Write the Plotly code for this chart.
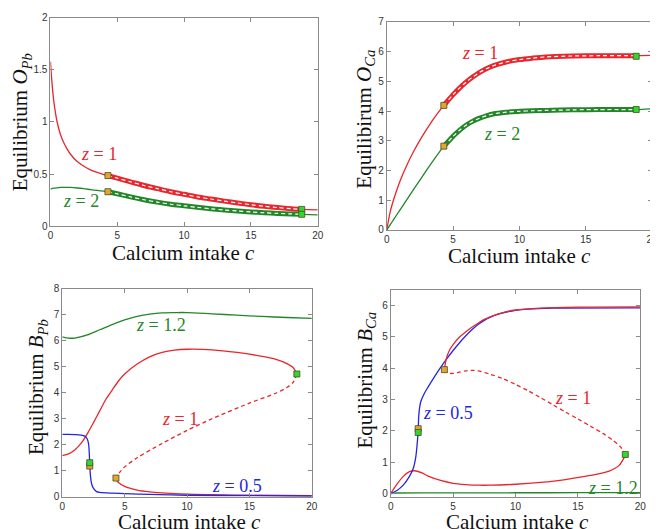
import plotly.graph_objects as go

W, H = 658, 529

# ---------------- data ----------------
# Top-left: O_Pb
opb_c = [0, 0.1, 0.25, 0.5, 0.75, 1, 1.25, 1.5, 2, 2.5, 3, 3.5, 4, 4.3, 5, 6, 7, 8, 9, 10, 11, 12, 13, 14, 15, 16, 17, 18, 18.8, 20]
opb_z1 = [1.58, 1.40, 1.20, 1.0, 0.88, 0.80, 0.74, 0.69, 0.62, 0.575, 0.54, 0.515, 0.495, 0.485, 0.46, 0.425, 0.39, 0.36, 0.33, 0.305, 0.28, 0.26, 0.24, 0.222, 0.205, 0.19, 0.178, 0.167, 0.16, 0.155]
opb_z2 = [0.355, 0.36, 0.364, 0.368, 0.371, 0.372, 0.372, 0.371, 0.366, 0.359, 0.35, 0.342, 0.335, 0.33, 0.31, 0.28, 0.253, 0.23, 0.21, 0.195, 0.18, 0.166, 0.155, 0.145, 0.136, 0.128, 0.122, 0.117, 0.113, 0.108]

# Top-right: O_Ca
oca_c = [0, 0.25, 0.5, 1, 1.5, 2, 2.5, 3, 3.5, 4, 4.3, 5, 5.5, 6, 6.5, 7, 7.5, 8, 9, 10, 11, 12, 14, 16, 18.8, 20]
oca_z1 = [0, 0.6, 1.0, 1.65, 2.17, 2.62, 3.02, 3.38, 3.72, 4.02, 4.19, 4.55, 4.78, 4.98, 5.15, 5.3, 5.42, 5.52, 5.65, 5.73, 5.78, 5.82, 5.85, 5.86, 5.86, 5.87]
oca_z2 = [0, 0.17, 0.34, 0.68, 1.01, 1.35, 1.68, 2.01, 2.33, 2.64, 2.81, 3.15, 3.36, 3.53, 3.66, 3.76, 3.84, 3.9, 3.96, 3.99, 4.01, 4.02, 4.04, 4.05, 4.05, 4.08]

# Bottom-left: B_Pb
bpb_z12_c = [0, 0.5, 1, 2, 3, 4, 5, 6, 7, 8, 9, 10, 12, 14, 16, 18, 20]
bpb_z12 = [6.15, 6.1, 6.1, 6.22, 6.42, 6.62, 6.8, 6.93, 7.02, 7.07, 7.08, 7.08, 7.03, 6.98, 6.93, 6.89, 6.86]
bpb_z1_up_c = [0, 0.5, 1, 1.5, 2, 2.5, 3, 3.5, 4, 4.5, 5, 6, 7, 8, 9, 10, 12, 14, 16, 17, 18, 18.5, 18.8]
bpb_z1_up = [1.58, 1.65, 1.8, 2.05, 2.42, 2.85, 3.3, 3.75, 4.1, 4.45, 4.72, 5.1, 5.38, 5.55, 5.64, 5.67, 5.65, 5.55, 5.4, 5.3, 5.12, 4.97, 4.72]
bpb_z1_mid_c = [18.8, 18.5, 18.0, 17, 15, 12, 10, 8, 6, 5, 4.6, 4.3]
bpb_z1_mid = [4.72, 4.4, 4.2, 3.96, 3.6, 3.0, 2.55, 2.05, 1.5, 1.15, 0.94, 0.72]
bpb_z1_lo_c = [4.3, 4.5, 5, 6, 7, 8, 10, 12, 15, 20]
bpb_z1_lo = [0.68, 0.55, 0.4, 0.26, 0.19, 0.15, 0.1, 0.08, 0.06, 0.04]
bpb_z05_c = [0, 0.5, 1, 1.5, 1.8, 2.0, 2.1, 2.15, 2.2, 2.25, 2.35, 2.5, 2.75, 3, 4, 5, 7, 10, 15, 20]
bpb_z05 = [2.4, 2.4, 2.39, 2.37, 2.33, 2.22, 2.05, 1.8, 1.25, 0.85, 0.5, 0.32, 0.2, 0.17, 0.14, 0.12, 0.09, 0.06, 0.045, 0.03]

# Bottom-right: B_Ca
bca_z05_c = [0, 0.5, 1, 1.5, 1.8, 2.0, 2.1, 2.2, 2.25, 2.4, 2.7, 3, 3.5, 4, 4.5, 5, 5.5, 6, 6.5, 7, 7.5, 8, 8.5, 9, 10, 11, 13, 20]
bca_z05 = [0, 0.1, 0.27, 0.55, 0.8, 1.15, 1.5, 2.0, 2.5, 2.92, 3.2, 3.4, 3.72, 4.02, 4.3, 4.56, 4.8, 5.02, 5.22, 5.39, 5.52, 5.62, 5.7, 5.76, 5.84, 5.88, 5.91, 5.92]
bca_z1_up_c = [4.3, 4.4, 4.5, 4.75, 5, 5.5, 6, 6.5, 7, 7.5, 8, 9, 10, 12, 15, 20]
bca_z1_up = [3.95, 4.2, 4.36, 4.6, 4.75, 4.98, 5.15, 5.3, 5.43, 5.55, 5.64, 5.77, 5.85, 5.91, 5.94, 5.95]
bca_z1_mid_c = [4.3, 4.6, 5, 5.5, 6, 6.5, 7, 8, 9, 10, 11, 12, 13, 14, 15, 16, 17, 17.8, 18.4, 18.8]
bca_z1_mid = [3.95, 3.84, 3.83, 3.87, 3.91, 3.93, 3.91, 3.8, 3.66, 3.48, 3.28, 3.06, 2.83, 2.6, 2.38, 2.15, 1.92, 1.7, 1.5, 1.25]
bca_z1_lo_c = [0, 0.5, 1, 1.5, 1.9, 2.5, 3, 4, 5, 6, 7, 8, 10, 12, 14, 16, 17.5, 18.3, 18.8]
bca_z1_lo = [0, 0.3, 0.55, 0.7, 0.73, 0.66, 0.56, 0.42, 0.33, 0.29, 0.27, 0.27, 0.3, 0.36, 0.45, 0.58, 0.72, 0.9, 1.22]
bca_z12_c = [0, 0.5, 5, 10, 15, 20]
bca_z12 = [0, 0.02, 0.025, 0.028, 0.03, 0.03]

# fold / bifurcation markers (c, value)
fold_lo_c = 4.3
fold_hi_c = 18.8
fold_z05_c = 2.2
opb_mk_orange = [0.485, 0.33]
opb_mk_green = [0.16, 0.113]
oca_mk_orange = [4.19, 2.82]
oca_mk_green = [5.84, 4.05]
bpb_mk_orange = [0.72, 1.18]
bpb_mk_green = [4.72, 1.31]
bca_mk_orange = [3.95, 2.07]
bca_mk_green = [1.25, 1.95]

# ---------------- styles ----------------
RED = "#e8262b"
GREEN = "#23872a"
BLUE = "#2326e0"
ORANGE = "#e3a72f"
LGREEN = "#2ed82e"
SERIF = "Liberation Serif"

fig = go.Figure()

domains = {
    "TL": dict(x=[40 / W, 311 / W], y=[1 - 217 / H, 1 - 4 / H], xr=[0, 20], yr=[0, 2], yt=[0, 0.5, 1, 1.5, 2], ytt=["0", "0.5", "1", "1.5", "2"]),
    "TR": dict(x=[381 / W, 650 / W], y=[1 - 221 / H, 1 - 8 / H], xr=[0, 20], yr=[0, 7], yt=list(range(8)), ytt=[str(v) for v in range(8)]),
    "BL": dict(x=[52 / W, 305 / W], y=[1 - 494 / H, 1 - 281 / H], xr=[0, 20], yr=[0, 8], yt=list(range(9)), ytt=[str(v) for v in range(9)]),
    "BR": dict(x=[385 / W, 638 / W], y=[1 - 494 / H, 1 - 282 / H], xr=[0, 20], yr=[-0.1, 6.5], yt=list(range(7)), ytt=[str(v) for v in range(7)]),
}
axnames = {"TL": ("x", "y"), "TR": ("x2", "y2"), "BL": ("x3", "y3"), "BR": ("x4", "y4")}

layout_axes = {}
for k, d in domains.items():
    xa, ya = axnames[k]
    xkey = "xaxis" if xa == "x" else "xaxis" + xa[1:]
    ykey = "yaxis" if ya == "y" else "yaxis" + ya[1:]
    common = dict(showline=True, linecolor="#8a8a8a", linewidth=1, mirror="ticks",
                  ticks="inside", ticklen=4, tickcolor="#8a8a8a", showgrid=False, zeroline=False,
                  tickfont=dict(family="Liberation Sans", size=10, color="#333333"))
    layout_axes[xkey] = dict(domain=d["x"], range=d["xr"], anchor=ya, tickvals=[0, 5, 10, 15, 20],
                             ticktext=["0", "5", "10", "15", "20"], **common)
    layout_axes[ykey] = dict(domain=d["y"], range=d["yr"], anchor=xa, tickvals=d["yt"], ticktext=d["ytt"], **common)


def line(xs, ys, color, ax, width=1.3, dash=None):
    fig.add_trace(go.Scatter(x=xs, y=ys, mode="lines", xaxis=ax[0], yaxis=ax[1],
                             line=dict(color=color, width=width, dash=dash, shape="spline", smoothing=0.8),
                             showlegend=False, hoverinfo="skip"))


def band(xs, ys, color, ax):
    bx = [x for x in xs if fold_lo_c <= x <= fold_hi_c]
    by = [y for x, y in zip(xs, ys) if fold_lo_c <= x <= fold_hi_c]
    line(bx, by, color, ax, width=5)
    line(bx, by, "white", ax, width=1.2, dash="4px,3px")


def markers(xs, ys, color, ax):
    fig.add_trace(go.Scatter(x=xs, y=ys, mode="markers", xaxis=ax[0], yaxis=ax[1],
                             marker=dict(symbol="square", size=6, color=color, line=dict(color="#4a4a20", width=0.8)),
                             showlegend=False, hoverinfo="skip"))


# TL
ax = axnames["TL"]
line(opb_c, opb_z1, RED, ax)
line(opb_c, opb_z2, GREEN, ax)
band(opb_c, opb_z1, RED, ax)
band(opb_c, opb_z2, GREEN, ax)
markers([fold_lo_c, fold_lo_c], opb_mk_orange, ORANGE, ax)
markers([fold_hi_c, fold_hi_c], opb_mk_green, LGREEN, ax)

# TR
ax = axnames["TR"]
line(oca_c, oca_z1, RED, ax)
line(oca_c, oca_z2, GREEN, ax)
band(oca_c, oca_z1, RED, ax)
band(oca_c, oca_z2, GREEN, ax)
markers([fold_lo_c, fold_lo_c], oca_mk_orange, ORANGE, ax)
markers([fold_hi_c, fold_hi_c], oca_mk_green, LGREEN, ax)

# BL
ax = axnames["BL"]
line(bpb_z12_c, bpb_z12, GREEN, ax)
line(bpb_z1_up_c, bpb_z1_up, RED, ax)
line(bpb_z1_mid_c, bpb_z1_mid, RED, ax, dash="4px,3px")
line(bpb_z1_lo_c, bpb_z1_lo, RED, ax)
line(bpb_z05_c, bpb_z05, BLUE, ax)
markers([fold_lo_c, fold_z05_c], bpb_mk_orange, ORANGE, ax)
markers([fold_hi_c, fold_z05_c], bpb_mk_green, LGREEN, ax)

# BR
ax = axnames["BR"]
line(bca_z12_c, bca_z12, GREEN, ax)
line(bca_z1_lo_c, bca_z1_lo, RED, ax)
line(bca_z05_c, bca_z05, BLUE, ax)
line(bca_z1_up_c, bca_z1_up, RED, ax)
line(bca_z1_mid_c, bca_z1_mid, RED, ax, dash="4px,3px")
markers([fold_lo_c, fold_z05_c], bca_mk_orange, ORANGE, ax)
markers([fold_hi_c, fold_z05_c], bca_mk_green, LGREEN, ax)

annotations = []


def label(text, x, y, color, ax):
    annotations.append(dict(text=text, x=x, y=y, xref=ax[0], yref=ax[1], showarrow=False,
                            font=dict(family=SERIF, size=18, color=color), xanchor="center", yanchor="middle"))


label("<i>z</i> = 1", 3.6, 0.69, RED, axnames["TL"])
label("<i>z</i> = 2", 2.3, 0.24, GREEN, axnames["TL"])
label("<i>z</i> = 1", 7.0, 5.95, RED, axnames["TR"])
label("<i>z</i> = 2", 8.7, 3.24, GREEN, axnames["TR"])
label("<i>z</i> = 1.2", 7.9, 6.59, GREEN, axnames["BL"])
label("<i>z</i> = 1", 9.4, 2.99, RED, axnames["BL"])
label("<i>z</i> = 0.5", 14.0, 0.41, BLUE, axnames["BL"])
label("<i>z</i> = 1", 14.6, 3.04, RED, axnames["BR"])
label("<i>z</i> = 0.5", 4.6, 2.56, BLUE, axnames["BR"])
label("<i>z</i> = 1.2", 17.8, 0.17, GREEN, axnames["BR"])


def title(text, px, py, angle=0):
    annotations.append(dict(text=text, x=px / W, y=1 - py / H, xref="paper", yref="paper", showarrow=False,
                            textangle=angle, font=dict(family=SERIF, size=21, color="#111111"),
                            xanchor="center", yanchor="middle"))


title("Calcium intake <i>c</i>", 175, 245)
title("Calcium intake <i>c</i>", 516, 248)
title("Calcium intake <i>c</i>", 181, 520)
title("Calcium intake <i>c</i>", 514, 520)
title("Equilibrium <i>O</i><sub><i>Pb</i></sub>", 11, 111, -90)
title("Equilibirum <i>O</i><sub><i>Ca</i></sub>", 358, 108, -90)
title("Equilibrium <i>B</i><sub><i>Pb</i></sub>", 27, 382, -90)
title("Equilibrium <i>B</i><sub><i>Ca</i></sub>", 360, 375, -90)

fig.update_layout(width=W, height=H, margin=dict(l=0, r=0, t=0, b=0),
                  paper_bgcolor="white", plot_bgcolor="white", annotations=annotations, **layout_axes)

fig.write_html("out.html")
